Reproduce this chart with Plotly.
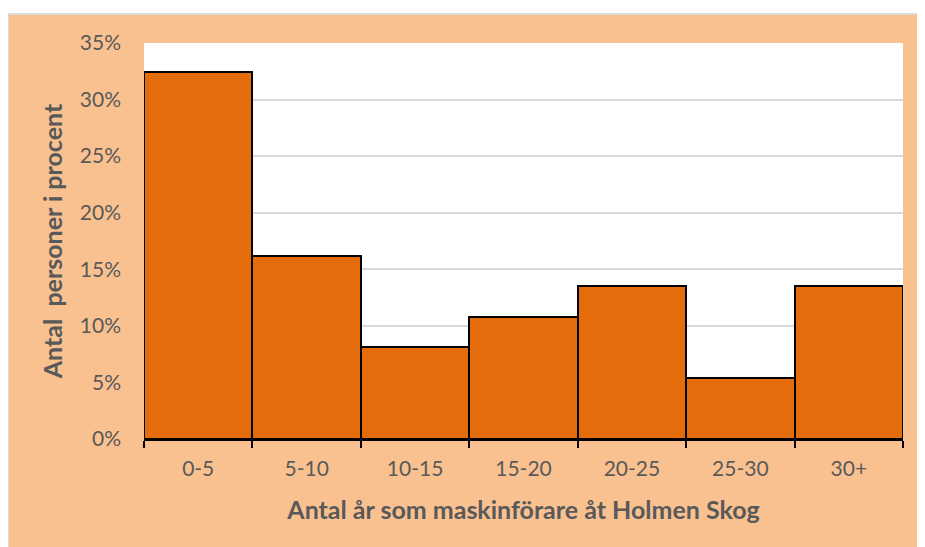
import plotly.graph_objects as go

categories = ["0-5", "5-10", "10-15", "15-20", "20-25", "25-30", "30+"]
values = [32.4, 16.2, 8.1, 10.8, 13.5, 5.4, 13.5]
y_ticks = [0, 5, 10, 15, 20, 25, 30, 35]
y_tick_labels = [f"{v}%" for v in y_ticks]

PEACH = "#FAC190"
BAR = "#E46C0A"
TXT = "#595959"
FONT = "Lato"

fig = go.Figure()
fig.add_trace(go.Bar(
    x=categories, y=values,
    marker=dict(color=BAR, line=dict(color="black", width=2)),
    hoverinfo="x+y",
))

W, H = 925, 547
L, R, T, B = 136, 30, 35, 116
pw, ph = W - L - R, H - T - B
x0 = -L / pw
x1 = (W - L) / pw
y1 = (H - 6 - B) / ph
y0 = -B / ph

fig.update_layout(
    width=W, height=H,
    margin=dict(l=L, r=R, t=T, b=B),
    paper_bgcolor="white",
    plot_bgcolor="rgba(0,0,0,0)",
    bargap=0,
    showlegend=False,
    font=dict(family=FONT, color=TXT, size=21),
    shapes=[
        dict(type="rect", xref="paper", yref="paper", x0=x0, x1=x1 + 0.02, y0=y0 - 0.02, y1=y1,
             fillcolor=PEACH, line=dict(color="#D9D9D9", width=2), layer="below"),
        dict(type="rect", xref="paper", yref="paper", x0=0, x1=1, y0=0, y1=1,
             fillcolor="white", line=dict(width=0), layer="below"),
    ],
    xaxis=dict(
        showline=True, linecolor="black", linewidth=2,
        ticks="outside", ticklen=7, tickwidth=2, tickcolor="black",
        tickson="boundaries",
        tickfont=dict(size=21, color=TXT, family=FONT),
        ticklabelstandoff=10,
        title=dict(text="<b>Antal år som maskinförare åt Holmen Skog</b>",
                   font=dict(size=25, color=TXT, family=FONT), standoff=22),
    ),
    yaxis=dict(
        range=[0, 35],
        tickvals=y_ticks, ticktext=y_tick_labels,
        showgrid=True, gridcolor="#D9D9D9", gridwidth=1.5,
        zeroline=False, showline=False,
        ticks="", ticklabelstandoff=22,
        tickfont=dict(size=21, color=TXT, family=FONT),
        title=dict(text="<b>Antal  personer i procent</b>",
                   font=dict(size=25, color=TXT, family=FONT), standoff=10),
    ),
)

fig.write_html("out.html")
